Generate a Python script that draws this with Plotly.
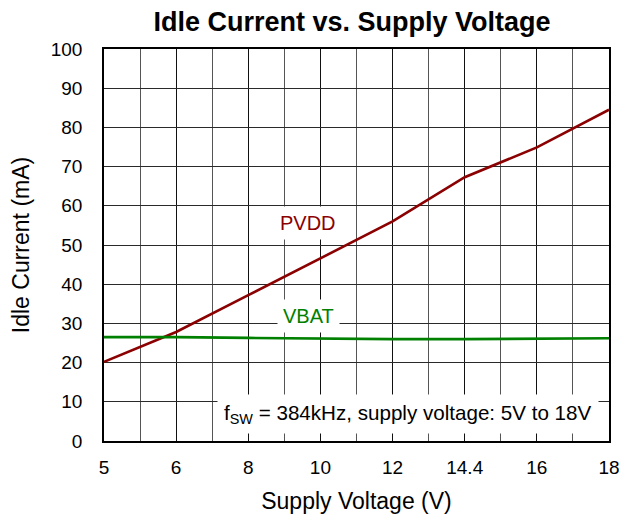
import plotly.graph_objects as go

voltage_labels = ["5", "6", "8", "10", "12", "14.4", "16", "18"]
pvdd_ma = [20.2, 27.8, 37.2, 46.7, 56.0, 67.3, 74.9, 84.5]
vbat_ma = [26.5, 26.5, 26.3, 26.1, 26.0, 26.0, 26.1, 26.2]

x_idx = list(range(len(voltage_labels)))
FONT = "Liberation Sans, Arial, sans-serif"

# page body has an 8px margin; size the figure so the plot lands where the reference has it
OFF = 8
W, H = 627 - OFF, 517 - OFF

fig = go.Figure()
fig.add_trace(go.Scatter(x=x_idx, y=pvdd_ma, mode="lines", name="PVDD",
                         line=dict(color="#8b0000", width=2.6), showlegend=False))
fig.add_trace(go.Scatter(x=x_idx, y=vbat_ma, mode="lines", name="VBAT",
                         line=dict(color="#008000", width=2.6), showlegend=False))

fig.update_layout(
    width=W, height=H,
    margin=dict(l=104 - OFF, r=18, t=49 - OFF, b=76, autoexpand=False),
    paper_bgcolor="white", plot_bgcolor="white",
    font=dict(family=FONT, size=19, color="black"),
    title=dict(text="<b>Idle Current vs. Supply Voltage</b>", x=(352 - OFF) / W, xanchor="center",
               y=1 - (22 - OFF) / H, yanchor="middle", font=dict(size=27, family=FONT)),
    xaxis=dict(
        range=[0, 7], tickvals=x_idx, ticktext=voltage_labels,
        showgrid=True, gridcolor="#111111", gridwidth=1.3,
        minor=dict(tickvals=[i + 0.5 for i in range(7)], showgrid=True,
                   gridcolor="#555555", gridwidth=1.3, ticks=""),
        showline=True, linecolor="black", linewidth=1.6, mirror=True,
        ticks="outside", ticklen=8, tickcolor="rgba(0,0,0,0)",
        zeroline=False, tickfont=dict(size=19), automargin=False,
        title=dict(text="Supply Voltage (V)", font=dict(size=23), standoff=16),
    ),
    yaxis=dict(
        range=[0, 100], dtick=10,
        showgrid=True, gridcolor="#2a2a2a", gridwidth=1.3,
        showline=True, linecolor="black", linewidth=1.6, mirror=True,
        ticks="outside", ticklen=16, tickcolor="rgba(0,0,0,0)",
        zeroline=False, tickfont=dict(size=19), automargin=False,
        title=dict(text="Idle Current (mA)", font=dict(size=23), standoff=21),
    ),
)

fig.add_annotation(x=2.83, y=55.6, xref="x", yref="y", text="PVDD", showarrow=False,
                   font=dict(color="#8b0000", size=20), bgcolor="white", borderpad=5)
fig.add_annotation(x=2.83, y=32.0, xref="x", yref="y", text="VBAT", showarrow=False,
                   font=dict(color="#008000", size=20), bgcolor="white", borderpad=5)
fig.add_annotation(x=4.21, y=7.0, xref="x", yref="y",
                   text="f<sub>SW</sub> = 384kHz, supply voltage: 5V to 18V",
                   showarrow=False, font=dict(size=20.6), bgcolor="white", borderpad=6)

fig.write_html("out.html")
